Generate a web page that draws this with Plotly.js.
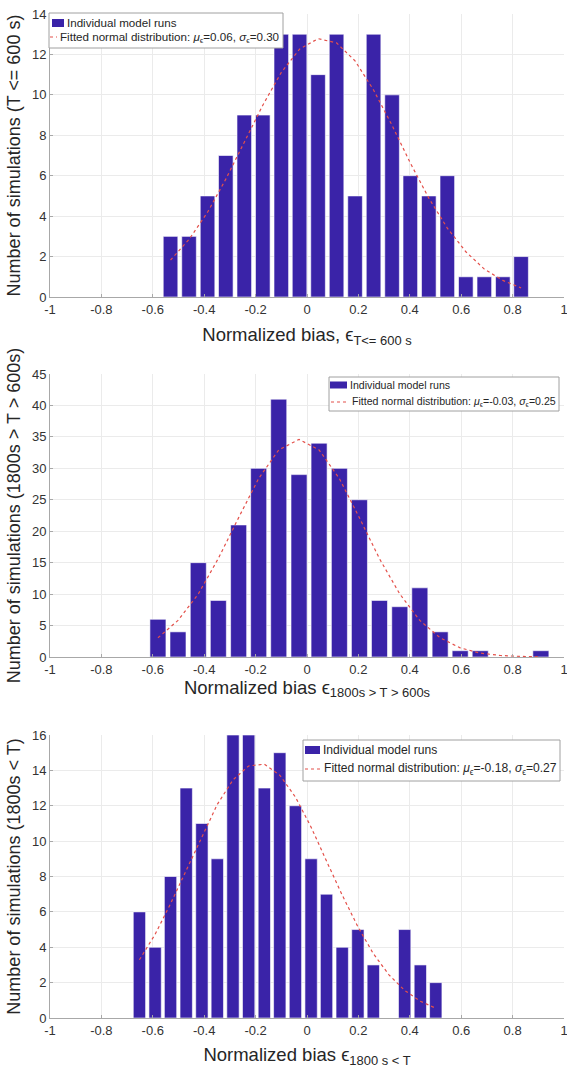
<!DOCTYPE html>
<html>
<head>
<meta charset="utf-8">
<script src="https://cdn.plot.ly/plotly-3.0.1.min.js"></script>
<style>
html,body{margin:0;padding:0;background:#fff;}
#chart{width:567px;height:1068px;}
</style>
</head>
<body>
<div id="chart"></div>
<script>
// ---- Data ----
const binCenters1 = [-0.531,-0.459,-0.387,-0.316,-0.244,-0.172,-0.100,-0.029,0.043,0.115,0.187,0.259,0.331,0.402,0.474,0.546,0.618,0.690,0.762,0.833];
const counts1     = [3,3,5,7,9,9,13,13,11,13,5,13,10,6,5,6,1,1,1,2];
const fit1        = [1.83,2.85,4.19,5.83,7.66,9.49,11.11,12.26,12.78,12.57,11.68,10.24,8.49,6.63,4.89,3.41,2.24,1.38,0.82,0.45];

const binCenters2 = [-0.580,-0.502,-0.423,-0.345,-0.266,-0.188,-0.110,-0.031,0.047,0.126,0.204,0.282,0.361,0.439,0.518,0.596,0.674,0.753,0.831,0.910];
const counts2     = [6,4,15,9,21,30,41,29,34,30,25,9,8,11,4,1,1,0,0,1];
const fit2        = [3.05,5.81,10.02,15.67,22.16,28.39,32.93,34.6,32.93,28.37,22.13,15.64,10.02,5.81,3.05,1.45,0.62,0.24,0.09,0.03];

const binCenters3 = [-0.652,-0.591,-0.531,-0.470,-0.409,-0.349,-0.288,-0.227,-0.166,-0.106,-0.045,0.016,0.076,0.137,0.198,0.258,0.319,0.380,0.441,0.501];
const counts3     = [6,4,8,13,11,9,16,16,13,15,12,9,7,4,5,3,0,5,3,2];
const fit3        = [3.29,4.73,6.46,8.35,10.3,12.08,13.46,14.25,14.35,13.73,12.49,10.79,8.87,6.95,5.16,3.64,2.44,1.56,0.95,0.55];

const xTickVals = [-1,-0.8,-0.6,-0.4,-0.2,0,0.2,0.4,0.6,0.8,1];
const xTickText = ['-1','-0.8','-0.6','-0.4','-0.2','0','0.2','0.4','0.6','0.8','1'];
const yTickVals1 = [0,2,4,6,8,10,12,14];
const yTickVals2 = [0,5,10,15,20,25,30,35,40,45];
const yTickVals3 = [0,2,4,6,8,10,12,14,16];

const barName = 'Individual model runs';
const fitNames = [
  'Fitted normal distribution: <i>μ</i><sub>ϵ</sub>=0.06, <i>σ</i><sub>ϵ</sub>=0.30',
  'Fitted normal distribution: <i>μ</i><sub>ϵ</sub>=-0.03, <i>σ</i><sub>ϵ</sub>=0.25',
  'Fitted normal distribution: <i>μ</i><sub>ϵ</sub>=-0.18, <i>σ</i><sub>ϵ</sub>=0.27'
];
const yTitles = [
  'Number of simulations (T &lt;= 600 s)',
  'Number of simulations (1800s &gt; T &gt; 600s)',
  'Number of simulations (1800s &lt; T)'
];
const xTitles = [
  'Normalized bias, ϵ<sub>T&lt;= 600 s</sub>',
  'Normalized bias ϵ<sub>1800s &gt; T &gt; 600s</sub>',
  'Normalized bias ϵ<sub>1800 s &lt; T</sub>'
];

// ---- Styling / layout ----
const BAR = '#3a23a8';
const FIT = '#e4504a';
const FONT = '"Liberation Sans", Arial, sans-serif';
const W = 567, H = 1068;
const px = v => v / W;
const py = v => 1 - v / H;
const xDom = [px(50), px(564)];
const yDoms = [[py(297), py(14)], [py(657), py(374)], [py(1018), py(735)]];

// legend boxes (pixel geometry), drawn as layout decorations
const legendBoxes = [
  {x0: 49, x1: 283, y0: 13, y1: 48, r1: 23, r2: 37, sw: [52, 64], ln: [50, 57], t1: 65, t2: 58, fs: 11.6, sh: 8},
  {x0: 329, x1: 559, y0: 377, y1: 411, r1: 385, r2: 402, sw: [330, 347], ln: [331, 348], t1: 348, t2: 350, fs: 10.6, sh: 7},
  {x0: 303, x1: 560, y0: 740, y1: 781, r1: 750, r2: 769, sw: [305, 320], ln: [305, 320], t1: 321, t2: 322, fs: 12.1, sh: 8}
];

const panels = [
  {x: binCenters1, c: counts1, f: fit1, yr: [0, 14], yt: yTickVals1},
  {x: binCenters2, c: counts2, f: fit2, yr: [0, 45], yt: yTickVals2},
  {x: binCenters3, c: counts3, f: fit3, yr: [0, 16], yt: yTickVals3}
];

const traces = [];
const shapes = [];
const annotations = [];
const layout = {
  width: W, height: H,
  margin: {l: 0, r: 0, t: 0, b: 0},
  paper_bgcolor: '#fff', plot_bgcolor: '#fff',
  font: {family: FONT, color: '#262626'},
  bargap: 0.2,
  showlegend: false
};

panels.forEach((p, i) => {
  const n = i === 0 ? '' : String(i + 1);
  const xa = 'x' + n, ya = 'y' + n;
  traces.push({
    type: 'bar', x: p.x, y: p.c, xaxis: xa, yaxis: ya,
    name: barName,
    marker: {color: BAR, line: {color: '#ffffff', width: 0.6}}
  });
  traces.push({
    type: 'scatter', mode: 'lines', x: p.x, y: p.f, xaxis: xa, yaxis: ya,
    name: fitNames[i],
    line: {color: FIT, dash: 'dot', width: 1.2}
  });
  const common = {
    showgrid: true, gridcolor: '#ebebeb', gridwidth: 1,
    zeroline: false, showline: true, linecolor: '#a8a8a8', linewidth: 1,
    ticks: 'inside', ticklen: 3, tickcolor: '#a8a8a8',
    tickfont: {size: 13, color: '#333333', family: FONT},
    automargin: false, ticklabeloverflow: 'allow'
  };
  layout['xaxis' + n] = Object.assign({}, common, {
    domain: xDom, anchor: ya, range: [-1, 1],
    tickmode: 'array', tickvals: xTickVals, ticktext: xTickText,
    title: {text: xTitles[i], font: {size: 18.5, color: '#262626', family: FONT}, standoff: i === 1 ? 4 : 12}
  });
  layout['yaxis' + n] = Object.assign({}, common, {
    domain: yDoms[i], anchor: xa, range: p.yr,
    tickmode: 'array', tickvals: p.yt, ticktext: p.yt.map(String),
    title: {text: yTitles[i], font: {size: 18, color: '#262626', family: FONT}, standoff: 6}
  });

  // legend decoration
  const L = legendBoxes[i];
  shapes.push({type: 'rect', xref: 'paper', yref: 'paper', x0: px(L.x0), x1: px(L.x1), y0: py(L.y1), y1: py(L.y0),
    fillcolor: '#ffffff', line: {color: '#a0a0a0', width: 1}, layer: 'above'});
  shapes.push({type: 'rect', xref: 'paper', yref: 'paper', x0: px(L.sw[0]), x1: px(L.sw[1]),
    y0: py(L.r1 + L.sh / 2), y1: py(L.r1 - L.sh / 2), fillcolor: BAR, line: {width: 0}, layer: 'above'});
  shapes.push({type: 'line', xref: 'paper', yref: 'paper', x0: px(L.ln[0]), x1: px(L.ln[1]),
    y0: py(L.r2), y1: py(L.r2), line: {color: FIT, width: 1.2, dash: 'dot'}, layer: 'above'});
  annotations.push({xref: 'paper', yref: 'paper', x: px(L.t1), y: py(L.r1), xanchor: 'left', yanchor: 'middle',
    text: barName, showarrow: false, font: {size: L.fs, color: '#262626', family: FONT}});
  annotations.push({xref: 'paper', yref: 'paper', x: px(L.t2), y: py(L.r2), xanchor: 'left', yanchor: 'middle',
    text: fitNames[i], showarrow: false, font: {size: L.fs, color: '#262626', family: FONT}});
});

layout.shapes = shapes;
layout.annotations = annotations;

Plotly.newPlot('chart', traces, layout, {displayModeBar: false, staticPlot: true});
</script>
</body>
</html>
